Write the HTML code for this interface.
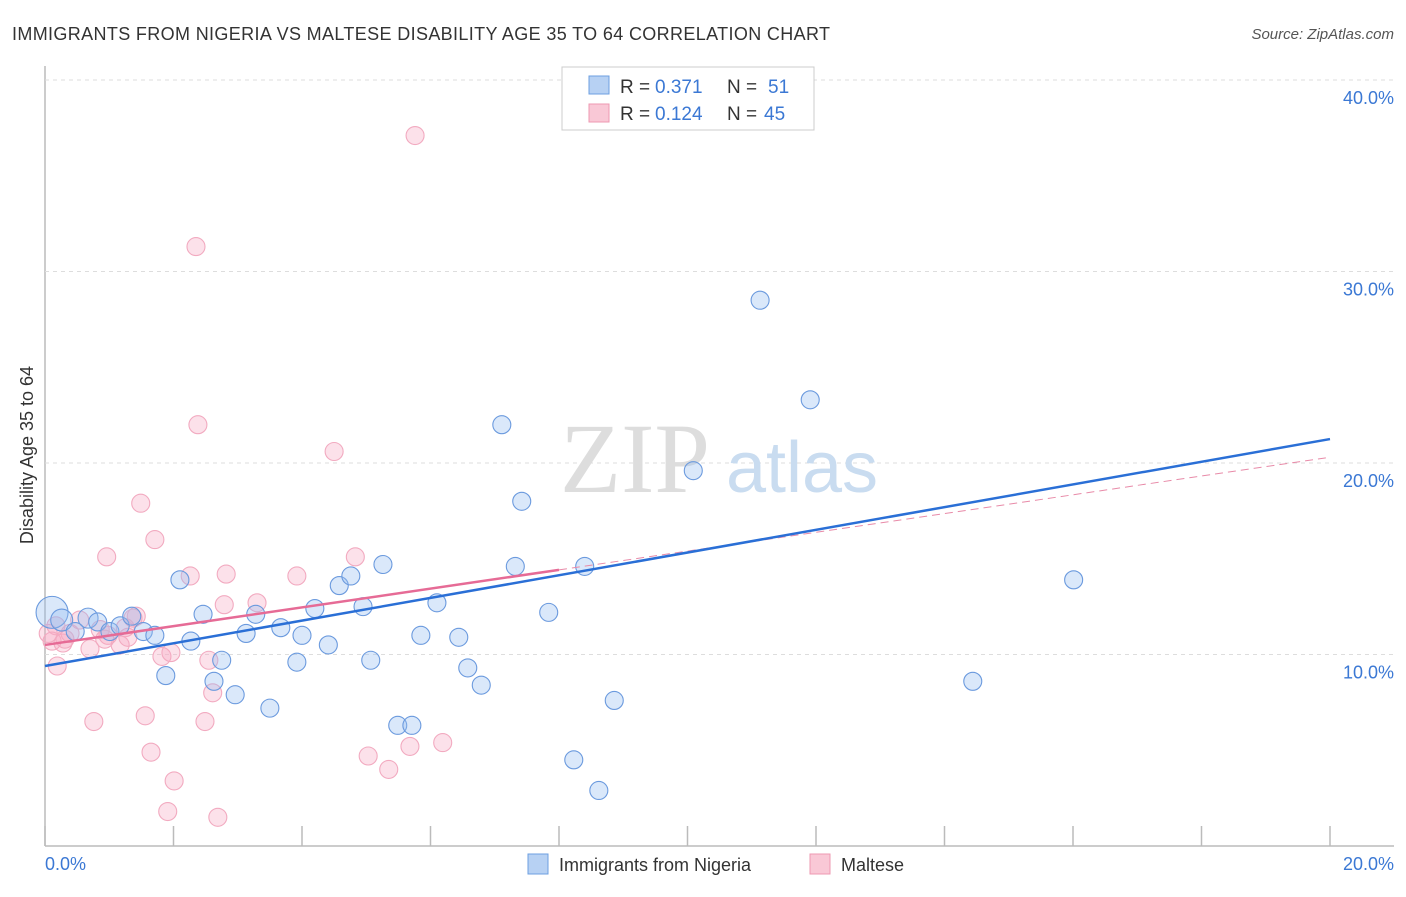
<!DOCTYPE html>
<html><head><meta charset="utf-8"><style>
body{margin:0;background:#fff;font-family:"Liberation Sans",sans-serif;}
</style></head><body>
<svg id="chart" width="1406" height="892" font-family="Liberation Sans, sans-serif">
<text x="12" y="40" font-size="18" fill="#333" textLength="818">IMMIGRANTS FROM NIGERIA VS MALTESE DISABILITY AGE 35 TO 64 CORRELATION CHART</text>
<text x="1394" y="39" font-size="15" fill="#555" font-style="italic" text-anchor="end">Source: ZipAtlas.com</text>
<g id="grid"></g>
<text x="635" y="492" font-size="100" fill="#ddd" style="font-family:'Liberation Serif',serif" text-anchor="middle">ZIP</text>
<text x="802" y="492" font-size="72" fill="#c9dcf0" text-anchor="middle">atlas</text>
<g id="points"></g>
<g id="lines"></g>
<text x="33" y="455" font-size="18" fill="#333" text-anchor="middle" transform="rotate(-90 33 455)">Disability Age 35 to 64</text>
<text x="45" y="870" font-size="18" fill="#3b78d4">0.0%</text>
<text x="1394" y="870" font-size="18" fill="#3b78d4" text-anchor="end">20.0%</text>
<g>
<rect x="562" y="67" width="252" height="63" fill="#fff" stroke="#ccc"/>
<rect x="589" y="76" width="20" height="18" fill="#b7d1f3" stroke="#6c9fe0"/>
<rect x="589" y="104" width="20" height="18" fill="#f9c8d6" stroke="#ee98b2"/>
<text x="620" y="93" font-size="19" fill="#333">R = </text><text x="655" y="93" font-size="19" fill="#3b78d4">0.371</text>
<text x="727" y="93" font-size="19" fill="#333">N = </text><text x="768" y="93" font-size="19" fill="#3b78d4">51</text>
<text x="620" y="120" font-size="19" fill="#333">R = </text><text x="655" y="120" font-size="19" fill="#3b78d4">0.124</text>
<text x="727" y="120" font-size="19" fill="#333">N = </text><text x="764" y="120" font-size="19" fill="#3b78d4">45</text>
</g>
<g>
<rect x="528" y="854" width="20" height="20" fill="#b7d1f3" stroke="#6c9fe0"/>
<text x="559" y="871" font-size="18" fill="#333">Immigrants from Nigeria</text>
<rect x="810" y="854" width="20" height="20" fill="#f9c8d6" stroke="#ee98b2"/>
<text x="841" y="871" font-size="18" fill="#333">Maltese</text>
</g>
</svg>
<script>
const yTicks=[10,20,30,40];
const xTicks=[0,2,4,6,8,10,12,14,16,18,20];
const blueX=[0.11,0.26,0.67,0.82,0.47,1.01,1.17,1.35,1.53,1.71,2.1,1.88,2.27,2.46,2.63,2.75,2.96,3.13,3.28,3.5,3.67,3.92,4.0,4.2,4.41,4.58,4.76,4.95,5.07,5.26,5.49,5.71,5.85,6.1,6.44,6.58,6.79,7.11,7.32,7.42,7.84,8.23,8.4,8.62,8.86,10.09,11.13,11.91,14.44,16.01,11.33];
const blueY=[12.2,11.8,11.9,11.7,11.2,11.2,11.5,12.0,11.2,11.0,13.9,8.9,10.7,12.1,8.6,9.7,7.9,11.1,12.1,7.2,11.4,9.6,11.0,12.4,10.5,13.6,14.1,12.5,9.7,14.7,6.3,6.3,11.0,12.7,10.9,9.3,8.4,22.0,14.6,18.0,12.2,4.5,14.6,2.9,7.6,19.6,28.5,23.3,8.6,13.9,40.0];
const blueR=[16,11,10,9,9,9,9,9,9,9,9,9,9,9,9,9,9,9,9,9,9,9,9,9,9,9,9,9,9,9,9,9,9,9,9,9,9,9,9,9,9,9,9,9,9,9,9,9,9,9,9];
const pinkX=[5.76,2.35,2.38,4.5,1.49,1.71,0.96,4.83,2.26,2.82,3.92,2.79,3.3,1.42,1.37,0.17,0.54,0.39,0.86,0.98,1.25,0.11,0.28,0.7,1.17,1.82,1.96,2.55,2.61,0.19,0.76,1.56,2.49,1.65,2.01,1.91,2.69,5.03,5.35,5.68,6.19,0.93,0.31,1.29,0.05];
const pinkY=[37.1,31.3,22.0,20.6,17.9,16.0,15.1,15.1,14.1,14.2,14.1,12.6,12.7,12.0,11.9,11.5,11.8,11.1,11.3,11.0,11.4,10.7,10.6,10.3,10.5,9.9,10.1,9.7,8.0,9.4,6.5,6.8,6.5,4.9,3.4,1.8,1.5,4.7,4.0,5.2,5.4,10.8,10.8,10.9,11.1];
const blueTrend=[9.4,21.25];
const pinkTrend=[10.5,20.3];
const pinkSolidEnd=8.0;
const NS="http://www.w3.org/2000/svg";
const X=v=>45+v*64.25, Y=v=>846-v*19.15;
function mk(t,a,p){const e=document.createElementNS(NS,t);for(const k in a)e.setAttribute(k,a[k]);p.appendChild(e);return e;}
const grid=document.getElementById('grid');
mk('line',{x1:45,y1:66,x2:45,y2:846,stroke:'#bbb','stroke-width':1.5},grid);
mk('line',{x1:45,y1:846,x2:1394,y2:846,stroke:'#bbb','stroke-width':1.5},grid);
yTicks.forEach(t=>{
 const l=mk('line',{x1:45,y1:Y(t),x2:1394,y2:Y(t),stroke:'#ddd','stroke-dasharray':'4,4'},grid);
 
 
 const tx=mk('text',{x:1394,y:Y(t)+24,'font-size':18,fill:'#3b78d4','text-anchor':'end'},grid);
 tx.textContent=t.toFixed(1)+'%';
 
 
});
xTicks.forEach(t=>{
 const l=mk('line',{x1:X(t),y1:826,x2:X(t),y2:846,stroke:'#bbb','stroke-width':1.5},grid);
 
 
});
const pts=document.getElementById('points');
pinkX.forEach((x,i)=>{
 const c=mk('circle',{cx:X(x),cy:Y(pinkY[i]),r:9,fill:'rgba(246,170,195,0.35)',stroke:'#f2aac0','stroke-width':1.1},pts);
 
 
});
blueX.forEach((x,i)=>{
 const c=mk('circle',{cx:X(x),cy:Y(blueY[i]),r:blueR[i],fill:'rgba(150,190,240,0.35)',stroke:'#6b9ade','stroke-width':1.1},pts);
 
 
});
const ln=document.getElementById('lines');
const pAt=x=>pinkTrend[0]+(pinkTrend[1]-pinkTrend[0])*x/20;
const pd=mk('line',{x1:X(pinkSolidEnd),y1:Y(pAt(pinkSolidEnd)),x2:X(20),y2:Y(pinkTrend[1]),stroke:'#e88aa8','stroke-width':1,'stroke-dasharray':'8,5'},ln);


const bl=mk('line',{x1:X(0),y1:Y(blueTrend[0]),x2:X(20),y2:Y(blueTrend[1]),stroke:'#2a6fd6','stroke-width':2.5},ln);


const pl=mk('line',{x1:X(0),y1:Y(pinkTrend[0]),x2:X(pinkSolidEnd),y2:Y(pAt(pinkSolidEnd)),stroke:'#e66b96','stroke-width':2.5},ln);


</script>
</body></html>
